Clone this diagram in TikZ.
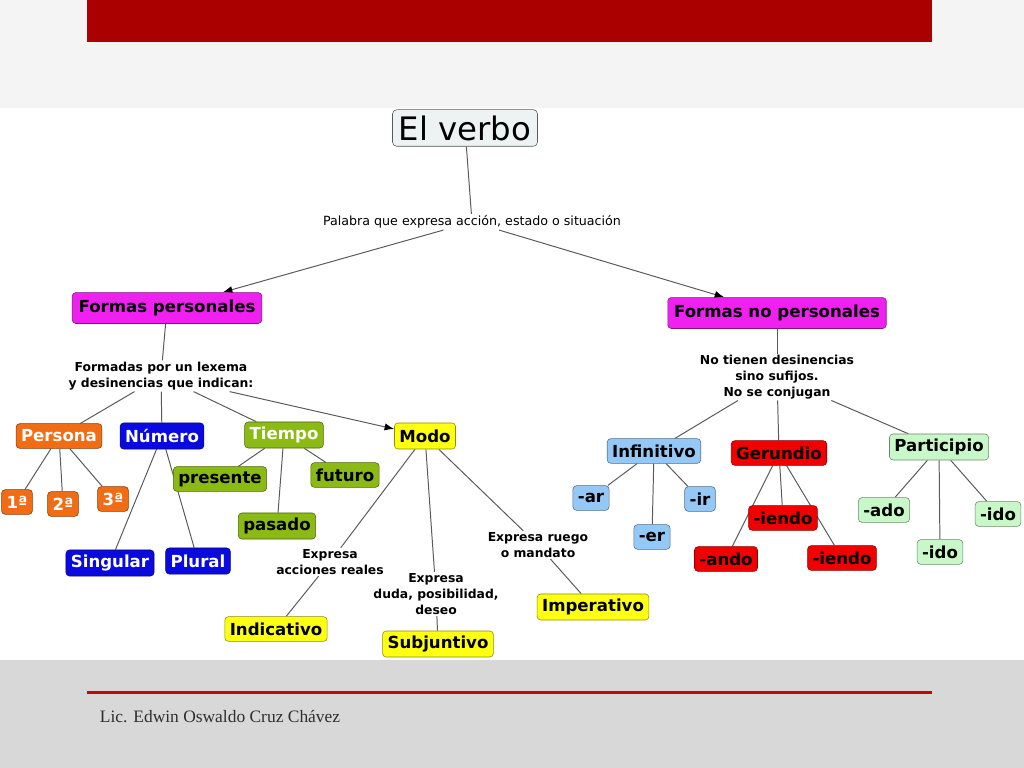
\documentclass[tikz,border=0pt]{standalone}
\usepackage{fontspec}
\setmainfont{DejaVu Sans}
\newfontfamily\footfont{Liberation Serif}
\usepackage{xcolor}
\usepackage{tikz}
\usetikzlibrary{arrows.meta,backgrounds}
\definecolor{vbbar}{HTML}{AA0000}
\definecolor{vbrule}{HTML}{B80A0A}
\definecolor{vbtop}{HTML}{F4F4F4}
\definecolor{vbfoot}{HTML}{D8D8D8}
\definecolor{vbline}{HTML}{5A5A5A}
\definecolor{vbroot}{HTML}{EDF3F3}
\definecolor{vbmagenta}{HTML}{F020F0}
\definecolor{vborange}{HTML}{F26C14}
\definecolor{vbblue}{HTML}{0A0AE0}
\definecolor{vbgreen}{HTML}{8CBA14}
\definecolor{vbyellow}{HTML}{FFFF12}
\definecolor{vbsky}{HTML}{94C8F6}
\definecolor{vbred}{HTML}{F20000}
\definecolor{vbmint}{HTML}{C8F8C8}
\tikzset{
  cbox/.style={draw=#1!55!black,fill=#1,rounded corners=2.5pt,inner xsep=3.5pt,inner ysep=0pt,
    minimum height=17.5pt,font=\fontsize{11.8}{13}\selectfont\bfseries,text=black},
  kform/.style={cbox=vbmagenta,minimum height=22pt,inner xsep=4.5pt},
  kpersona/.style={cbox=vborange,text=white},
  knum/.style={cbox=vbblue,text=white,minimum height=18.5pt},
  ktime/.style={cbox=vbgreen},
  kmodo/.style={cbox=vbyellow,minimum height=18.5pt},
  kinf/.style={cbox=vbsky},
  kger/.style={cbox=vbred},
  kpart/.style={cbox=vbmint},
  glink/.style={font=\fontsize{8.8}{11.2}\selectfont\bfseries,align=center,inner sep=1pt},
  lk/.style={draw=vbline,line width=0.7pt},
  flow/.style={lk,-{Latex[length=2.4mm,width=1.8mm,color=black]}}
}
\begin{document}
\begin{tikzpicture}[x=0.025cm,y=-0.025cm]
  \useasboundingbox (0,0) rectangle (1024,768);
  \begin{scope}[on background layer]
    \fill[vbtop] (0,0) rectangle (1024,108);
    \fill[white] (0,108) rectangle (1024,660);
    \fill[vbfoot] (0,660) rectangle (1024,768);
    \fill[vbbar] (87,0) rectangle (932,42);
    \fill[vbrule] (87,690.5) rectangle (932,693.5);
  \end{scope}
  \node[anchor=base west,font=\footfont\fontsize{12.4}{14}\selectfont,text=black!82] (autor) at (95,722) {Lic. Edwin Oswaldo Cruz Chávez};

  \node[draw=vbline,fill=vbroot,rounded corners=3pt,inner xsep=4.5pt,inner ysep=0pt,minimum height=26pt,font=\fontsize{23}{26}\selectfont] (verbo) at (465,128) {El verbo};
  \node[font=\fontsize{9}{10}\selectfont,inner sep=1pt] (palabra) at (472,222) {Palabra que expresa acción, estado o situación};
  \node[kform] (formper) at (167,308) {Formas personales};
  \node[kform] (formnoper) at (777,313) {Formas no personales};

  \node[glink] (formadas) at (161,376) {Formadas por un lexema\\y desinencias que indican:};
  \node[kpersona] (persona) at (59,436) {Persona};
  \node[knum] (numero) at (162,436) {Número};
  \node[ktime,text=white,minimum height=18.5pt] (tiempo) at (284,435) {Tiempo};
  \node[kmodo] (modo) at (425,436) {Modo};
  \node[kpersona] (p1) at (17,502) {1ª};
  \node[kpersona] (p2) at (63,504) {2ª};
  \node[kpersona] (p3) at (113,499) {3ª};
  \node[knum] (singular) at (110,563) {Singular};
  \node[knum] (plural) at (198,561) {Plural};
  \node[ktime] (presente) at (220,479) {presente};
  \node[ktime] (futuro) at (345,475) {futuro};
  \node[ktime,minimum height=18.5pt] (pasado) at (277,526) {pasado};
  \node[glink] (reales) at (330,562) {Expresa\\acciones reales};
  \node[glink] (duda) at (436,594) {Expresa\\duda, posibilidad,\\deseo};
  \node[glink] (ruego) at (538,545) {Expresa ruego\\o mandato};
  \node[kmodo,minimum height=17.5pt] (indicativo) at (276,629) {Indicativo};
  \node[kmodo] (subjuntivo) at (438,644) {Subjuntivo};
  \node[kmodo] (imperativo) at (593,607) {Imperativo};

  \node[glink] (notienen) at (777,377) {No tienen desinencias\\sino sufijos.\\No se conjugan};
  \node[kinf] (infinitivo) at (654,451) {Infinitivo};
  \node[kger] (gerundio) at (779,453) {Gerundio};
  \node[kpart,minimum height=18.5pt] (participio) at (939,447) {Participio};
  \node[kinf] (ar) at (591,498) {-ar};
  \node[kinf] (er) at (652,537) {-er};
  \node[kinf] (ir) at (700,499) {-ir};
  \node[kger] (iendoa) at (783,518) {-iendo};
  \node[kger] (ando) at (726,559) {-ando};
  \node[kger] (iendob) at (842,558) {-iendo};
  \node[kpart] (ado) at (884,510) {-ado};
  \node[kpart] (idoa) at (940,552) {-ido};
  \node[kpart] (idob) at (998,514) {-ido};

  \begin{scope}[on background layer]
    \draw[lk] (verbo) -- (palabra);
    \draw[flow] (palabra) -- (formper);
    \draw[flow] (palabra) -- (formnoper);
    \draw[lk] (formper) -- (formadas);
    \draw[lk] (formadas) -- (persona);
    \draw[lk] (formadas) -- (numero);
    \draw[lk] (formadas) -- (tiempo);
    \draw[flow] (formadas) -- (modo);
    \draw[lk] (persona) -- (p1);
    \draw[lk] (persona) -- (p2);
    \draw[lk] (persona) -- (p3);
    \draw[lk] (numero) -- (singular);
    \draw[lk] (numero) -- (plural);
    \draw[lk] (tiempo) -- (presente);
    \draw[lk] (tiempo) -- (pasado);
    \draw[lk] (tiempo) -- (futuro);
    \draw[lk] (modo) -- (reales);
    \draw[lk] (reales) -- (indicativo);
    \draw[lk] (modo) -- (duda);
    \draw[lk] (duda) -- (subjuntivo);
    \draw[lk] (modo) -- (ruego);
    \draw[lk] (ruego) -- (imperativo);
    \draw[lk] (formnoper) -- (notienen);
    \draw[lk] (notienen) -- (infinitivo);
    \draw[lk] (notienen) -- (gerundio);
    \draw[lk] (notienen) -- (participio);
    \draw[lk] (infinitivo) -- (ar);
    \draw[lk] (infinitivo) -- (er);
    \draw[lk] (infinitivo) -- (ir);
    \draw[lk] (gerundio) -- (iendoa);
    \draw[lk] (gerundio) -- (ando);
    \draw[lk] (gerundio) -- (iendob);
    \draw[lk] (participio) -- (ado);
    \draw[lk] (participio) -- (idoa);
    \draw[lk] (participio) -- (idob);
  \end{scope}
\end{tikzpicture}
\end{document}
